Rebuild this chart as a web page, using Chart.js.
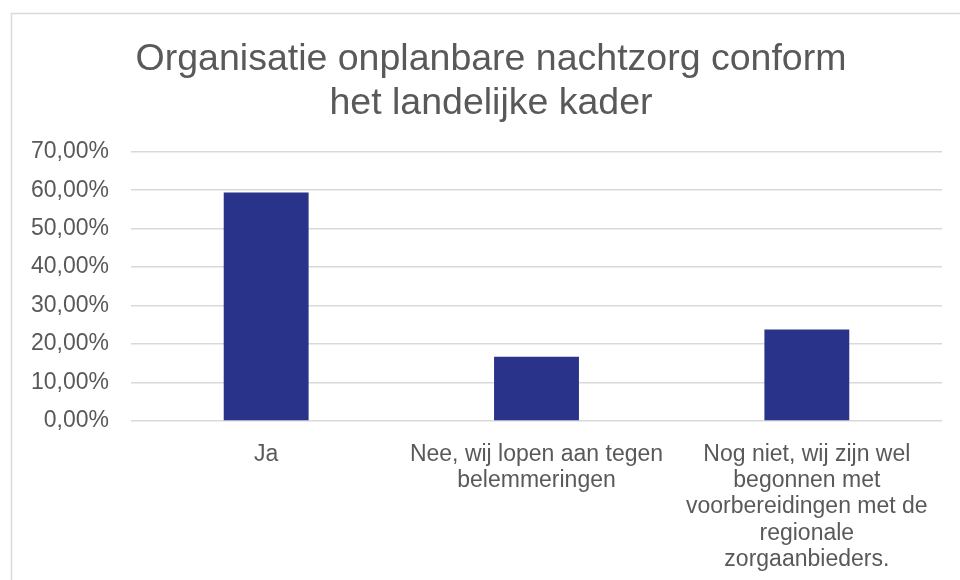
<!DOCTYPE html>
<html>
<head>
<meta charset="utf-8">
<script src="https://cdn.jsdelivr.net/npm/chart.js@4"></script>
<style>
  html, body { margin: 0; padding: 0; background: #ffffff; }
  #wrap { position: relative; width: 960px; height: 580px; }
</style>
</head>
<body>
<div id="wrap"><canvas id="c" width="960" height="580"></canvas></div>
<script>
const titleLines = ['Organisatie onplanbare nachtzorg conform', 'het landelijke kader'];
const categories = [
  ['Ja'],
  ['Nee, wij lopen aan tegen', 'belemmeringen'],
  ['Nog niet, wij zijn wel', 'begonnen met', 'voorbereidingen met de', 'regionale', 'zorgaanbieders.']
];
const values = [0.594, 0.167, 0.238];
const yMin = 0, yMax = 0.7, yStep = 0.1;

const FONT = "'Liberation Sans', Arial, sans-serif";
const TEXT = '#595959';

const frame = {
  id: 'frame',
  afterLayout(chart) {
    if (chart.titleBlock) { chart.titleBlock.left = 40; }
  },
  beforeDraw(chart) {
    const ctx = chart.ctx;
    ctx.save();
    ctx.fillStyle = '#ffffff';
    ctx.fillRect(0, 0, chart.width, chart.height);
    ctx.strokeStyle = '#d9d9d9';
    ctx.lineWidth = 1.5;
    ctx.strokeRect(11.5, 13.5, 1200, 1200);
    ctx.restore();
  }
};

new Chart(document.getElementById('c'), {
  type: 'bar',
  data: {
    labels: categories,
    datasets: [{
      data: values,
      backgroundColor: '#283389',
      borderWidth: 0,
      categoryPercentage: 0.314,
      barPercentage: 1
    }]
  },
  options: {
    responsive: false,
    animation: false,
    devicePixelRatio: 1,
    layout: { padding: { left: 0, right: 18, top: 0, bottom: 0 } },
    plugins: {
      legend: { display: false },
      tooltip: { enabled: false },
      title: {
        display: true,
        text: titleLines,
        color: TEXT,
        font: { family: FONT, size: 37.5, weight: 'normal', lineHeight: 1.17 },
        padding: { top: 38, bottom: 26 }
      }
    },
    scales: {
      x: {
        grid: { display: false, drawTicks: false },
        border: { display: false },
        ticks: {
          color: TEXT,
          font: { family: FONT, size: 23, lineHeight: 1.15 },
          padding: 20,
          maxRotation: 0,
          autoSkip: false
        },
        afterFit(scale) { scale.height = 159; }
      },
      y: {
        min: yMin,
        max: yMax,
        grid: { color: '#d9d9d9', lineWidth: 1.5, drawTicks: false },
        border: { display: false },
        ticks: {
          stepSize: yStep,
          color: TEXT,
          font: { family: FONT, size: 23 },
          padding: 22,
          callback: (v) => (v * 100).toFixed(2).replace('.', ',') + '%'
        },
        afterFit(scale) { scale.width = 131; }
      }
    }
  },
  plugins: [frame]
});
</script>
</body>
</html>
